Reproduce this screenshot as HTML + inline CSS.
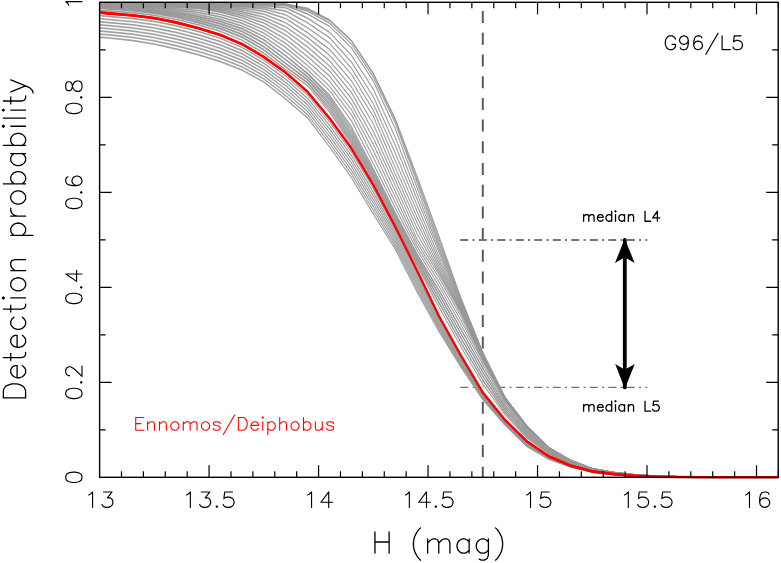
<!DOCTYPE html><html><head><meta charset="utf-8"><style>html,body{margin:0;padding:0;background:#fff;font-family:"Liberation Sans",sans-serif}svg{display:block}</style></head><body><svg width="781" height="563" viewBox="0 0 781 563">
<rect x="0" y="0" width="781" height="563" fill="#fff"/>
<line x1="482.8" y1="2.3" x2="482.8" y2="477.3" stroke="#5a5a5a" stroke-width="2" stroke-dasharray="12 9.7" stroke-dashoffset="12.9"/>
<line x1="460.3" y1="240" x2="647.3" y2="240" stroke="#757575" stroke-width="1.9" stroke-dasharray="8 4.25 2 4.25"/>
<line x1="460.3" y1="387.4" x2="647.3" y2="387.4" stroke="#707070" stroke-width="1.2" stroke-dasharray="8 4.25 2 4.25"/>
<path d="M99.60 1.90 L110.55 1.90 L132.45 1.90 L154.34 1.90 L176.24 1.90 L198.14 2.00 L220.03 2.00 L241.93 2.10 L263.83 2.30 L285.72 3.50 L307.62 7.90 L329.52 19.40 L351.42 40.00 L373.31 73.00 L395.21 118.10 L417.11 176.00 L439.00 236.00 L460.90 297.50 L482.80 352.00 L504.69 396.50 L526.59 425.30 L548.49 447.10 L570.39 459.90 L592.28 468.40 L614.18 472.30 L636.08 474.70 L657.97 475.90 L679.87 476.50 L701.77 476.70 L723.66 476.80 L745.56 476.80 L767.46 476.80 L778.41 476.80 L778.41 477.80 L767.46 477.80 L745.56 477.80 L723.66 477.80 L701.77 477.80 L679.87 477.70 L657.97 477.40 L636.08 476.60 L614.18 475.10 L592.28 472.50 L570.39 467.30 L548.49 459.50 L526.59 446.70 L504.69 425.20 L482.80 400.20 L460.90 367.50 L439.00 332.00 L417.11 292.50 L395.21 249.50 L373.31 214.50 L351.42 178.00 L329.52 147.40 L307.62 118.50 L285.72 99.50 L263.83 82.50 L241.93 70.50 L220.03 62.00 L198.14 55.20 L176.24 49.50 L154.34 44.60 L132.45 41.00 L110.55 38.60 L99.60 37.70Z" fill="#fff" fill-opacity="0.8"/>
<clipPath id="c"><rect x="99.6" y="1.7" width="678.6" height="476.6"/></clipPath>
<g clip-path="url(#c)" fill="none" stroke-linejoin="round">
<path d="M99.60 1.95 L110.55 1.95 L132.45 1.95 L154.34 1.95 L176.24 1.95 L198.14 2.05 L220.03 2.05 L241.93 2.15 L263.83 2.35 L285.72 3.55 L307.62 7.95 L329.52 19.48 L351.42 40.05 L373.31 73.05 L395.21 118.17 L417.11 176.12 L439.00 236.05 L460.90 297.55 L482.80 352.05 L504.69 396.55 L526.59 425.34 L548.49 447.12 L570.39 459.92 L592.28 468.40 L614.18 472.33 L636.08 474.72 L657.97 475.91 L679.87 476.55 L701.77 476.72 L723.66 476.85 L745.56 476.85 L767.46 476.85 L778.41 476.85 L778.41 477.75 L767.46 477.75 L745.56 477.75 L723.66 477.75 L701.77 477.62 L679.87 477.45 L657.97 476.81 L636.08 475.62 L614.18 473.23 L592.28 469.30 L570.39 460.82 L548.49 448.02 L526.59 426.24 L504.69 397.45 L482.80 352.95 L460.90 298.45 L439.00 236.95 L417.11 177.02 L395.21 119.07 L373.31 73.95 L351.42 40.95 L329.52 20.38 L307.62 8.85 L285.72 4.45 L263.83 3.25 L241.93 3.05 L220.03 2.95 L198.14 2.95 L176.24 2.85 L154.34 2.85 L132.45 2.85 L110.55 2.85 L99.60 2.85Z M99.60 2.18 L110.55 2.20 L132.45 2.23 L154.34 2.28 L176.24 2.35 L198.14 2.54 L220.03 2.63 L241.93 2.84 L263.83 2.90 L285.72 3.68 L307.62 9.05 L329.52 20.01 L351.42 40.41 L373.31 73.41 L395.21 119.58 L417.11 179.13 L439.00 239.21 L460.90 298.67 L482.80 352.27 L504.69 396.55 L526.59 425.34 L548.49 447.12 L570.39 459.92 L592.28 468.40 L614.18 472.33 L636.08 474.72 L657.97 475.91 L679.87 476.55 L701.77 476.72 L723.66 476.85 L745.56 476.85 L767.46 476.85 L778.41 476.85 L778.41 477.75 L767.46 477.75 L745.56 477.75 L723.66 477.75 L701.77 477.62 L679.87 477.45 L657.97 476.81 L636.08 475.62 L614.18 473.23 L592.28 469.30 L570.39 460.82 L548.49 448.02 L526.59 426.24 L504.69 397.45 L482.80 353.17 L460.90 299.57 L439.00 240.11 L417.11 180.03 L395.21 120.48 L373.31 74.31 L351.42 41.31 L329.52 20.91 L307.62 9.95 L285.72 4.58 L263.83 3.80 L241.93 3.74 L220.03 3.53 L198.14 3.44 L176.24 3.25 L154.34 3.18 L132.45 3.13 L110.55 3.10 L99.60 3.08Z M99.60 2.41 L110.55 2.44 L132.45 2.51 L154.34 2.60 L176.24 2.75 L198.14 3.03 L220.03 3.21 L241.93 3.55 L263.83 3.61 L285.72 4.27 L307.62 10.69 L329.52 22.58 L351.42 43.47 L373.31 76.57 L395.21 122.39 L417.11 182.23 L439.00 242.57 L460.90 300.15 L482.80 352.60 L504.69 396.55 L526.59 425.34 L548.49 447.12 L570.39 459.92 L592.28 468.40 L614.18 472.33 L636.08 474.72 L657.97 475.91 L679.87 476.55 L701.77 476.72 L723.66 476.85 L745.56 476.85 L767.46 476.85 L778.41 476.85 L778.41 477.75 L767.46 477.75 L745.56 477.75 L723.66 477.75 L701.77 477.62 L679.87 477.45 L657.97 476.81 L636.08 475.62 L614.18 473.23 L592.28 469.30 L570.39 460.82 L548.49 448.02 L526.59 426.24 L504.69 397.45 L482.80 353.50 L460.90 301.05 L439.00 243.47 L417.11 183.13 L395.21 123.29 L373.31 77.47 L351.42 44.37 L329.52 23.48 L307.62 11.59 L285.72 5.17 L263.83 4.51 L241.93 4.45 L220.03 4.11 L198.14 3.93 L176.24 3.65 L154.34 3.50 L132.45 3.41 L110.55 3.34 L99.60 3.31Z M99.60 2.64 L110.55 2.69 L132.45 2.78 L154.34 2.93 L176.24 3.15 L198.14 3.52 L220.03 3.80 L241.93 4.25 L263.83 4.33 L285.72 5.11 L307.62 13.59 L329.52 25.93 L351.42 47.31 L373.31 80.58 L395.21 128.02 L417.11 187.33 L439.00 245.69 L460.90 301.58 L482.80 352.92 L504.69 396.55 L526.59 425.34 L548.49 447.12 L570.39 459.92 L592.28 468.40 L614.18 472.33 L636.08 474.72 L657.97 475.91 L679.87 476.55 L701.77 476.72 L723.66 476.85 L745.56 476.85 L767.46 476.85 L778.41 476.85 L778.41 477.75 L767.46 477.75 L745.56 477.75 L723.66 477.75 L701.77 477.62 L679.87 477.45 L657.97 476.81 L636.08 475.62 L614.18 473.23 L592.28 469.30 L570.39 460.82 L548.49 448.02 L526.59 426.24 L504.69 397.45 L482.80 353.82 L460.90 302.48 L439.00 246.59 L417.11 188.23 L395.21 128.92 L373.31 81.48 L351.42 48.21 L329.52 26.83 L307.62 14.49 L285.72 6.01 L263.83 5.23 L241.93 5.15 L220.03 4.70 L198.14 4.42 L176.24 4.05 L154.34 3.83 L132.45 3.68 L110.55 3.59 L99.60 3.54Z M99.60 2.86 L110.55 2.94 L132.45 3.06 L154.34 3.26 L176.24 3.55 L198.14 4.02 L220.03 4.38 L241.93 4.95 L263.83 5.44 L285.72 7.34 L307.62 17.78 L329.52 31.89 L351.42 54.83 L373.31 88.70 L395.21 136.78 L417.11 193.28 L439.00 248.63 L460.90 302.95 L482.80 353.44 L504.69 396.73 L526.59 425.46 L548.49 447.19 L570.39 459.97 L592.28 468.42 L614.18 472.34 L636.08 474.72 L657.97 475.91 L679.87 476.55 L701.77 476.72 L723.66 476.85 L745.56 476.85 L767.46 476.85 L778.41 476.85 L778.41 477.75 L767.46 477.75 L745.56 477.75 L723.66 477.75 L701.77 477.62 L679.87 477.45 L657.97 476.81 L636.08 475.62 L614.18 473.24 L592.28 469.32 L570.39 460.87 L548.49 448.09 L526.59 426.36 L504.69 397.63 L482.80 354.34 L460.90 303.85 L439.00 249.53 L417.11 194.18 L395.21 137.68 L373.31 89.60 L351.42 55.73 L329.52 32.79 L307.62 18.68 L285.72 8.24 L263.83 6.34 L241.93 5.85 L220.03 5.28 L198.14 4.92 L176.24 4.45 L154.34 4.16 L132.45 3.96 L110.55 3.84 L99.60 3.76Z M99.60 3.09 L110.55 3.18 L132.45 3.34 L154.34 3.59 L176.24 3.96 L198.14 4.51 L220.03 4.97 L241.93 5.66 L263.83 6.86 L285.72 10.61 L307.62 22.45 L329.52 37.24 L351.42 61.62 L373.31 96.16 L395.21 144.80 L417.11 198.83 L439.00 251.83 L460.90 304.31 L482.80 354.10 L504.69 397.03 L526.59 425.66 L548.49 447.29 L570.39 460.04 L592.28 468.45 L614.18 472.36 L636.08 474.73 L657.97 475.92 L679.87 476.55 L701.77 476.72 L723.66 476.85 L745.56 476.85 L767.46 476.85 L778.41 476.85 L778.41 477.75 L767.46 477.75 L745.56 477.75 L723.66 477.75 L701.77 477.62 L679.87 477.45 L657.97 476.82 L636.08 475.63 L614.18 473.26 L592.28 469.35 L570.39 460.94 L548.49 448.19 L526.59 426.56 L504.69 397.93 L482.80 355.00 L460.90 305.21 L439.00 252.73 L417.11 199.73 L395.21 145.70 L373.31 97.06 L351.42 62.52 L329.52 38.14 L307.62 23.35 L285.72 11.51 L263.83 7.76 L241.93 6.56 L220.03 5.87 L198.14 5.41 L176.24 4.86 L154.34 4.49 L132.45 4.24 L110.55 4.08 L99.60 3.99Z M99.60 3.32 L110.55 3.43 L132.45 3.62 L154.34 3.91 L176.24 4.36 L198.14 5.00 L220.03 5.55 L241.93 6.36 L263.83 8.43 L285.72 14.41 L307.62 27.41 L329.52 42.72 L351.42 67.81 L373.31 103.21 L395.21 152.52 L417.11 204.99 L439.00 256.16 L460.90 305.70 L482.80 354.74 L504.69 397.32 L526.59 425.85 L548.49 447.39 L570.39 460.10 L592.28 468.48 L614.18 472.38 L636.08 474.74 L657.97 475.92 L679.87 476.55 L701.77 476.72 L723.66 476.85 L745.56 476.85 L767.46 476.85 L778.41 476.85 L778.41 477.75 L767.46 477.75 L745.56 477.75 L723.66 477.75 L701.77 477.62 L679.87 477.45 L657.97 476.82 L636.08 475.64 L614.18 473.28 L592.28 469.38 L570.39 461.00 L548.49 448.29 L526.59 426.75 L504.69 398.22 L482.80 355.64 L460.90 306.60 L439.00 257.06 L417.11 205.89 L395.21 153.42 L373.31 104.11 L351.42 68.71 L329.52 43.62 L307.62 28.31 L285.72 15.31 L263.83 9.33 L241.93 7.26 L220.03 6.45 L198.14 5.90 L176.24 5.26 L154.34 4.81 L132.45 4.52 L110.55 4.33 L99.60 4.22Z M99.60 3.55 L110.55 3.68 L132.45 3.90 L154.34 4.24 L176.24 4.76 L198.14 5.49 L220.03 6.40 L241.93 7.77 L263.83 10.79 L285.72 18.14 L307.62 32.25 L329.52 48.99 L351.42 73.65 L373.31 109.76 L395.21 160.05 L417.11 210.97 L439.00 259.99 L460.90 306.98 L482.80 355.38 L504.69 397.62 L526.59 426.04 L548.49 447.48 L570.39 460.16 L592.28 468.52 L614.18 472.39 L636.08 474.75 L657.97 475.93 L679.87 476.55 L701.77 476.72 L723.66 476.85 L745.56 476.85 L767.46 476.85 L778.41 476.85 L778.41 477.75 L767.46 477.75 L745.56 477.75 L723.66 477.75 L701.77 477.62 L679.87 477.45 L657.97 476.83 L636.08 475.65 L614.18 473.29 L592.28 469.42 L570.39 461.06 L548.49 448.38 L526.59 426.94 L504.69 398.52 L482.80 356.28 L460.90 307.88 L439.00 260.89 L417.11 211.87 L395.21 160.95 L373.31 110.66 L351.42 74.55 L329.52 49.89 L307.62 33.15 L285.72 19.04 L263.83 11.69 L241.93 8.67 L220.03 7.30 L198.14 6.39 L176.24 5.66 L154.34 5.14 L132.45 4.80 L110.55 4.58 L99.60 4.45Z M99.60 3.78 L110.55 3.93 L132.45 4.18 L154.34 4.57 L176.24 5.16 L198.14 5.98 L220.03 7.37 L241.93 9.51 L263.83 13.69 L285.72 22.40 L307.62 36.98 L329.52 54.77 L351.42 80.33 L373.31 116.01 L395.21 167.21 L417.11 216.76 L439.00 263.40 L460.90 308.16 L482.80 356.00 L504.69 397.91 L526.59 426.23 L548.49 447.57 L570.39 460.22 L592.28 468.55 L614.18 472.41 L636.08 474.77 L657.97 475.93 L679.87 476.55 L701.77 476.72 L723.66 476.85 L745.56 476.85 L767.46 476.85 L778.41 476.85 L778.41 477.75 L767.46 477.75 L745.56 477.75 L723.66 477.75 L701.77 477.62 L679.87 477.45 L657.97 476.83 L636.08 475.67 L614.18 473.31 L592.28 469.45 L570.39 461.12 L548.49 448.47 L526.59 427.13 L504.69 398.81 L482.80 356.90 L460.90 309.06 L439.00 264.30 L417.11 217.66 L395.21 168.11 L373.31 116.91 L351.42 81.23 L329.52 55.67 L307.62 37.88 L285.72 23.30 L263.83 14.59 L241.93 10.41 L220.03 8.27 L198.14 6.88 L176.24 6.06 L154.34 5.47 L132.45 5.08 L110.55 4.83 L99.60 4.68Z M99.60 4.01 L110.55 4.17 L132.45 4.45 L154.34 4.90 L176.24 5.56 L198.14 6.47 L220.03 8.38 L241.93 11.37 L263.83 16.67 L285.72 26.47 L307.62 41.71 L329.52 60.31 L351.42 86.41 L373.31 123.41 L395.21 173.58 L417.11 222.38 L439.00 266.47 L460.90 309.26 L482.80 356.62 L504.69 398.20 L526.59 426.42 L548.49 447.66 L570.39 460.28 L592.28 468.57 L614.18 472.42 L636.08 474.78 L657.97 475.94 L679.87 476.56 L701.77 476.73 L723.66 476.85 L745.56 476.85 L767.46 476.85 L778.41 476.85 L778.41 477.75 L767.46 477.75 L745.56 477.75 L723.66 477.75 L701.77 477.63 L679.87 477.46 L657.97 476.84 L636.08 475.68 L614.18 473.32 L592.28 469.47 L570.39 461.18 L548.49 448.56 L526.59 427.32 L504.69 399.10 L482.80 357.52 L460.90 310.16 L439.00 267.37 L417.11 223.28 L395.21 174.48 L373.31 124.31 L351.42 87.31 L329.52 61.21 L307.62 42.61 L285.72 27.37 L263.83 17.57 L241.93 12.27 L220.03 9.28 L198.14 7.37 L176.24 6.46 L154.34 5.80 L132.45 5.35 L110.55 5.07 L99.60 4.91Z M99.60 4.24 L110.55 4.42 L132.45 4.73 L154.34 5.22 L176.24 5.96 L198.14 6.96 L220.03 9.38 L241.93 13.17 L263.83 19.55 L285.72 30.44 L307.62 46.48 L329.52 65.62 L351.42 91.98 L373.31 130.73 L395.21 179.33 L417.11 227.88 L439.00 269.26 L460.90 310.27 L482.80 357.24 L504.69 398.50 L526.59 426.62 L548.49 447.75 L570.39 460.33 L592.28 468.59 L614.18 472.44 L636.08 474.79 L657.97 475.94 L679.87 476.56 L701.77 476.73 L723.66 476.85 L745.56 476.85 L767.46 476.85 L778.41 476.85 L778.41 477.75 L767.46 477.75 L745.56 477.75 L723.66 477.75 L701.77 477.63 L679.87 477.46 L657.97 476.84 L636.08 475.69 L614.18 473.34 L592.28 469.49 L570.39 461.23 L548.49 448.65 L526.59 427.52 L504.69 399.40 L482.80 358.14 L460.90 311.17 L439.00 270.16 L417.11 228.78 L395.21 180.23 L373.31 131.63 L351.42 92.88 L329.52 66.52 L307.62 47.38 L285.72 31.34 L263.83 20.45 L241.93 14.07 L220.03 10.28 L198.14 7.86 L176.24 6.86 L154.34 6.12 L132.45 5.63 L110.55 5.32 L99.60 5.14Z M99.60 4.46 L110.55 4.67 L132.45 5.01 L154.34 5.55 L176.24 6.36 L198.14 7.45 L220.03 10.42 L241.93 15.10 L263.83 22.61 L285.72 34.47 L307.62 51.34 L329.52 70.53 L351.42 98.08 L373.31 137.54 L395.21 184.91 L417.11 233.34 L439.00 271.81 L460.90 311.37 L482.80 357.84 L504.69 398.79 L526.59 426.81 L548.49 447.84 L570.39 460.39 L592.28 468.61 L614.18 472.46 L636.08 474.80 L657.97 475.95 L679.87 476.56 L701.77 476.73 L723.66 476.85 L745.56 476.85 L767.46 476.85 L778.41 476.85 L778.41 477.75 L767.46 477.75 L745.56 477.75 L723.66 477.75 L701.77 477.63 L679.87 477.46 L657.97 476.85 L636.08 475.70 L614.18 473.36 L592.28 469.51 L570.39 461.29 L548.49 448.74 L526.59 427.71 L504.69 399.69 L482.80 358.74 L460.90 312.27 L439.00 272.71 L417.11 234.24 L395.21 185.81 L373.31 138.44 L351.42 98.98 L329.52 71.43 L307.62 52.24 L285.72 35.37 L263.83 23.51 L241.93 16.00 L220.03 11.32 L198.14 8.35 L176.24 7.26 L154.34 6.45 L132.45 5.91 L110.55 5.57 L99.60 5.36Z M99.60 4.69 L110.55 4.91 L132.45 5.29 L154.34 5.88 L176.24 6.76 L198.14 7.95 L220.03 11.55 L241.93 17.28 L263.83 26.08 L285.72 38.88 L307.62 56.13 L329.52 75.58 L351.42 103.80 L373.31 143.86 L395.21 190.73 L417.11 238.68 L439.00 274.17 L460.90 312.50 L482.80 358.44 L504.69 399.08 L526.59 427.00 L548.49 447.93 L570.39 460.45 L592.28 468.64 L614.18 472.47 L636.08 474.80 L657.97 475.95 L679.87 476.56 L701.77 476.73 L723.66 476.85 L745.56 476.85 L767.46 476.85 L778.41 476.85 L778.41 477.75 L767.46 477.75 L745.56 477.75 L723.66 477.75 L701.77 477.63 L679.87 477.46 L657.97 476.85 L636.08 475.70 L614.18 473.37 L592.28 469.54 L570.39 461.35 L548.49 448.83 L526.59 427.90 L504.69 399.98 L482.80 359.34 L460.90 313.40 L439.00 275.07 L417.11 239.58 L395.21 191.63 L373.31 144.76 L351.42 104.70 L329.52 76.48 L307.62 57.03 L285.72 39.78 L263.83 26.98 L241.93 18.18 L220.03 12.45 L198.14 8.85 L176.24 7.66 L154.34 6.78 L132.45 6.19 L110.55 5.81 L99.60 5.59Z M99.60 4.92 L110.55 5.24 L132.45 5.84 L154.34 6.75 L176.24 8.14 L198.14 10.03 L220.03 13.97 L241.93 20.03 L263.83 29.41 L285.72 43.06 L307.62 60.65 L329.52 80.83 L351.42 109.20 L373.31 150.12 L395.21 196.39 L417.11 242.51 L439.00 277.40 L460.90 315.73 L482.80 359.48 L504.69 399.37 L526.59 427.19 L548.49 448.03 L570.39 460.51 L592.28 468.66 L614.18 472.49 L636.08 474.81 L657.97 475.96 L679.87 476.56 L701.77 476.73 L723.66 476.85 L745.56 476.85 L767.46 476.85 L778.41 476.85 L778.41 477.75 L767.46 477.75 L745.56 477.75 L723.66 477.75 L701.77 477.63 L679.87 477.46 L657.97 476.86 L636.08 475.71 L614.18 473.39 L592.28 469.56 L570.39 461.41 L548.49 448.93 L526.59 428.09 L504.69 400.27 L482.80 360.38 L460.90 316.63 L439.00 278.30 L417.11 243.41 L395.21 197.29 L373.31 151.02 L351.42 110.10 L329.52 81.73 L307.62 61.55 L285.72 43.96 L263.83 30.31 L241.93 20.93 L220.03 14.87 L198.14 10.93 L176.24 9.04 L154.34 7.65 L132.45 6.74 L110.55 6.14 L99.60 5.82Z M99.60 5.15 L110.55 5.56 L132.45 6.38 L154.34 7.62 L176.24 9.51 L198.14 12.10 L220.03 16.37 L241.93 22.77 L263.83 32.66 L285.72 46.98 L307.62 65.16 L329.52 85.70 L351.42 114.30 L373.31 156.76 L395.21 201.89 L417.11 246.10 L439.00 281.49 L460.90 319.95 L482.80 360.78 L504.69 399.66 L526.59 427.38 L548.49 448.12 L570.39 460.57 L592.28 468.68 L614.18 472.51 L636.08 474.82 L657.97 475.96 L679.87 476.56 L701.77 476.74 L723.66 476.85 L745.56 476.85 L767.46 476.85 L778.41 476.85 L778.41 477.75 L767.46 477.75 L745.56 477.75 L723.66 477.75 L701.77 477.64 L679.87 477.46 L657.97 476.86 L636.08 475.72 L614.18 473.41 L592.28 469.58 L570.39 461.47 L548.49 449.02 L526.59 428.28 L504.69 400.56 L482.80 361.68 L460.90 320.85 L439.00 282.39 L417.11 247.00 L395.21 202.79 L373.31 157.66 L351.42 115.20 L329.52 86.60 L307.62 66.06 L285.72 47.88 L263.83 33.56 L241.93 23.67 L220.03 17.27 L198.14 13.00 L176.24 10.41 L154.34 8.52 L132.45 7.28 L110.55 6.46 L99.60 6.05Z M99.60 5.65 L110.55 6.15 L132.45 7.15 L154.34 8.67 L176.24 10.97 L198.14 14.15 L220.03 18.74 L241.93 25.49 L263.83 36.05 L285.72 51.28 L307.62 69.34 L329.52 90.15 L351.42 120.24 L373.31 163.10 L395.21 207.24 L417.11 249.77 L439.00 285.63 L460.90 324.21 L482.80 363.80 L504.69 401.47 L526.59 428.56 L548.49 448.70 L570.39 460.94 L592.28 468.83 L614.18 472.61 L636.08 474.86 L657.97 476.00 L679.87 476.57 L701.77 476.75 L723.66 476.85 L745.56 476.85 L767.46 476.85 L778.41 476.85 L778.41 477.75 L767.46 477.75 L745.56 477.75 L723.66 477.75 L701.77 477.65 L679.87 477.47 L657.97 476.90 L636.08 475.76 L614.18 473.51 L592.28 469.73 L570.39 461.84 L548.49 449.60 L526.59 429.46 L504.69 402.37 L482.80 364.70 L460.90 325.11 L439.00 286.53 L417.11 250.67 L395.21 208.14 L373.31 164.00 L351.42 121.14 L329.52 91.05 L307.62 70.24 L285.72 52.18 L263.83 36.95 L241.93 26.39 L220.03 19.64 L198.14 15.05 L176.24 11.87 L154.34 9.57 L132.45 8.05 L110.55 7.05 L99.60 6.55Z M99.60 6.15 L110.55 6.72 L132.45 7.89 L154.34 9.65 L176.24 12.33 L198.14 16.00 L220.03 20.95 L241.93 28.14 L263.83 39.41 L285.72 55.42 L307.62 72.87 L329.52 94.49 L351.42 126.36 L373.31 168.31 L395.21 212.10 L417.11 253.46 L439.00 289.81 L460.90 328.68 L482.80 367.76 L504.69 404.03 L526.59 430.27 L548.49 449.57 L570.39 461.49 L592.28 469.05 L614.18 472.75 L636.08 474.92 L657.97 476.04 L679.87 476.58 L701.77 476.77 L723.66 476.85 L745.56 476.85 L767.46 476.85 L778.41 476.85 L778.41 477.75 L767.46 477.75 L745.56 477.75 L723.66 477.75 L701.77 477.67 L679.87 477.48 L657.97 476.94 L636.08 475.82 L614.18 473.65 L592.28 469.95 L570.39 462.39 L548.49 450.47 L526.59 431.17 L504.69 404.93 L482.80 368.66 L460.90 329.58 L439.00 290.71 L417.11 254.36 L395.21 213.00 L373.31 169.21 L351.42 127.26 L329.52 95.39 L307.62 73.77 L285.72 56.32 L263.83 40.31 L241.93 29.04 L220.03 21.85 L198.14 16.90 L176.24 13.23 L154.34 10.55 L132.45 8.79 L110.55 7.62 L99.60 7.05Z M99.60 6.65 L110.55 7.31 L132.45 8.65 L154.34 10.67 L176.24 13.74 L198.14 17.94 L220.03 23.26 L241.93 30.89 L263.83 42.74 L285.72 59.19 L307.62 76.08 L329.52 98.62 L351.42 131.44 L373.31 172.25 L395.21 215.42 L417.11 256.20 L439.00 293.75 L460.90 333.13 L482.80 371.71 L504.69 406.56 L526.59 431.96 L548.49 450.46 L570.39 462.05 L592.28 469.29 L614.18 472.89 L636.08 474.99 L657.97 476.08 L679.87 476.59 L701.77 476.79 L723.66 476.85 L745.56 476.85 L767.46 476.85 L778.41 476.85 L778.41 477.75 L767.46 477.75 L745.56 477.75 L723.66 477.75 L701.77 477.69 L679.87 477.49 L657.97 476.98 L636.08 475.89 L614.18 473.79 L592.28 470.19 L570.39 462.95 L548.49 451.36 L526.59 432.86 L504.69 407.46 L482.80 372.61 L460.90 334.03 L439.00 294.65 L417.11 257.10 L395.21 216.32 L373.31 173.15 L351.42 132.34 L329.52 99.52 L307.62 76.98 L285.72 60.09 L263.83 43.64 L241.93 31.79 L220.03 24.16 L198.14 18.84 L176.24 14.64 L154.34 11.57 L132.45 9.55 L110.55 8.21 L99.60 7.55Z M99.60 7.15 L110.55 7.89 L132.45 9.42 L154.34 11.72 L176.24 15.20 L198.14 19.99 L220.03 25.70 L241.93 33.81 L263.83 46.24 L285.72 62.99 L307.62 79.06 L329.52 102.80 L351.42 136.06 L373.31 175.82 L395.21 218.63 L417.11 259.12 L439.00 297.86 L460.90 337.54 L482.80 375.64 L504.69 409.05 L526.59 433.65 L548.49 451.38 L570.39 462.63 L592.28 469.55 L614.18 473.05 L636.08 475.06 L657.97 476.12 L679.87 476.60 L701.77 476.85 L723.66 476.85 L745.56 476.85 L767.46 476.85 L778.41 476.85 L778.41 477.75 L767.46 477.75 L745.56 477.75 L723.66 477.75 L701.77 477.75 L679.87 477.50 L657.97 477.02 L636.08 475.96 L614.18 473.95 L592.28 470.45 L570.39 463.53 L548.49 452.28 L526.59 434.55 L504.69 409.95 L482.80 376.54 L460.90 338.44 L439.00 298.76 L417.11 260.02 L395.21 219.53 L373.31 176.72 L351.42 136.96 L329.52 103.70 L307.62 79.96 L285.72 63.89 L263.83 47.14 L241.93 34.71 L220.03 26.60 L198.14 20.89 L176.24 16.10 L154.34 12.62 L132.45 10.32 L110.55 8.79 L99.60 8.05Z M99.60 7.65 L110.55 8.48 L132.45 10.19 L154.34 12.76 L176.24 16.67 L198.14 22.03 L220.03 28.07 L241.93 36.54 L263.83 49.40 L285.72 66.44 L307.62 82.03 L329.52 107.13 L351.42 140.29 L373.31 179.26 L395.21 221.74 L417.11 262.21 L439.00 302.10 L460.90 341.89 L482.80 379.55 L504.69 411.51 L526.59 435.34 L548.49 452.33 L570.39 463.22 L592.28 469.84 L614.18 473.20 L636.08 475.14 L657.97 476.17 L679.87 476.62 L701.77 476.85 L723.66 476.85 L745.56 476.85 L767.46 476.85 L778.41 476.85 L778.41 477.75 L767.46 477.75 L745.56 477.75 L723.66 477.75 L701.77 477.75 L679.87 477.52 L657.97 477.07 L636.08 476.04 L614.18 474.10 L592.28 470.74 L570.39 464.12 L548.49 453.23 L526.59 436.24 L504.69 412.41 L482.80 380.45 L460.90 342.79 L439.00 303.00 L417.11 263.11 L395.21 222.64 L373.31 180.16 L351.42 141.19 L329.52 108.03 L307.62 82.93 L285.72 67.34 L263.83 50.30 L241.93 37.44 L220.03 28.97 L198.14 22.93 L176.24 17.57 L154.34 13.66 L132.45 11.09 L110.55 9.38 L99.60 8.55Z M99.60 9.65 L110.55 10.55 L132.45 12.29 L154.34 14.94 L176.24 18.96 L198.14 24.33 L220.03 30.71 L241.93 39.66 L263.83 52.75 L285.72 69.32 L307.62 85.25 L329.52 111.66 L351.42 144.19 L373.31 182.55 L395.21 224.75 L417.11 265.48 L439.00 306.57 L460.90 346.18 L482.80 383.61 L504.69 413.94 L526.59 437.01 L548.49 453.32 L570.39 463.83 L592.28 470.15 L614.18 473.37 L636.08 475.23 L657.97 476.22 L679.87 476.63 L701.77 476.85 L723.66 476.85 L745.56 476.85 L767.46 476.85 L778.41 476.85 L778.41 477.75 L767.46 477.75 L745.56 477.75 L723.66 477.75 L701.77 477.75 L679.87 477.53 L657.97 477.12 L636.08 476.13 L614.18 474.27 L592.28 471.05 L570.39 464.73 L548.49 454.22 L526.59 437.91 L504.69 414.84 L482.80 384.51 L460.90 347.08 L439.00 307.47 L417.11 266.38 L395.21 225.65 L373.31 183.45 L351.42 145.09 L329.52 112.56 L307.62 86.15 L285.72 70.22 L263.83 53.65 L241.93 40.56 L220.03 31.61 L198.14 25.23 L176.24 19.86 L154.34 15.84 L132.45 13.19 L110.55 11.45 L99.60 10.55Z M99.60 6.15 L110.55 6.72 L132.45 7.89 L154.34 9.65 L176.24 12.33 L198.14 16.00 L220.03 20.95 L241.93 28.14 L263.83 39.41 L285.72 55.42 L307.62 73.46 L329.52 96.56 L351.42 128.90 L373.31 170.28 L395.21 213.76 L417.11 254.73 L439.00 290.18 L460.90 328.68 L482.80 367.76 L504.69 404.03 L526.59 430.27 L548.49 449.57 L570.39 461.49 L592.28 469.05 L614.18 472.75 L636.08 474.92 L657.97 476.04 L679.87 476.58 L701.77 476.77 L723.66 476.85 L745.56 476.85 L767.46 476.85 L778.41 476.85 L778.41 477.75 L767.46 477.75 L745.56 477.75 L723.66 477.75 L701.77 477.67 L679.87 477.48 L657.97 476.94 L636.08 475.82 L614.18 473.65 L592.28 469.95 L570.39 462.39 L548.49 450.47 L526.59 431.17 L504.69 404.93 L482.80 368.66 L460.90 329.58 L439.00 291.08 L417.11 255.63 L395.21 214.66 L373.31 171.18 L351.42 129.80 L329.52 97.46 L307.62 74.36 L285.72 56.32 L263.83 40.31 L241.93 29.04 L220.03 21.85 L198.14 16.90 L176.24 13.23 L154.34 10.55 L132.45 8.79 L110.55 7.62 L99.60 7.05Z M99.60 6.65 L110.55 7.31 L132.45 8.65 L154.34 10.67 L176.24 13.74 L198.14 17.94 L220.03 23.26 L241.93 30.89 L263.83 42.74 L285.72 59.19 L307.62 76.63 L329.52 100.71 L351.42 133.75 L373.31 174.04 L395.21 217.03 L417.11 257.55 L439.00 294.13 L460.90 333.13 L482.80 371.71 L504.69 406.56 L526.59 431.96 L548.49 450.46 L570.39 462.05 L592.28 469.29 L614.18 472.89 L636.08 474.99 L657.97 476.08 L679.87 476.59 L701.77 476.79 L723.66 476.85 L745.56 476.85 L767.46 476.85 L778.41 476.85 L778.41 477.75 L767.46 477.75 L745.56 477.75 L723.66 477.75 L701.77 477.69 L679.87 477.49 L657.97 476.98 L636.08 475.89 L614.18 473.79 L592.28 470.19 L570.39 462.95 L548.49 451.36 L526.59 432.86 L504.69 407.46 L482.80 372.61 L460.90 334.03 L439.00 295.03 L417.11 258.45 L395.21 217.93 L373.31 174.94 L351.42 134.65 L329.52 101.61 L307.62 77.53 L285.72 60.09 L263.83 43.64 L241.93 31.79 L220.03 24.16 L198.14 18.84 L176.24 14.64 L154.34 11.57 L132.45 9.55 L110.55 8.21 L99.60 7.55Z M99.60 7.15 L110.55 7.89 L132.45 9.42 L154.34 11.72 L176.24 15.20 L198.14 19.99 L220.03 25.70 L241.93 33.81 L263.83 46.24 L285.72 62.99 L307.62 79.61 L329.52 104.96 L351.42 138.17 L373.31 177.54 L395.21 220.19 L417.11 260.55 L439.00 298.26 L460.90 337.54 L482.80 375.64 L504.69 409.05 L526.59 433.65 L548.49 451.38 L570.39 462.63 L592.28 469.55 L614.18 473.05 L636.08 475.06 L657.97 476.12 L679.87 476.60 L701.77 476.85 L723.66 476.85 L745.56 476.85 L767.46 476.85 L778.41 476.85 L778.41 477.75 L767.46 477.75 L745.56 477.75 L723.66 477.75 L701.77 477.75 L679.87 477.50 L657.97 477.02 L636.08 475.96 L614.18 473.95 L592.28 470.45 L570.39 463.53 L548.49 452.28 L526.59 434.55 L504.69 409.95 L482.80 376.54 L460.90 338.44 L439.00 299.16 L417.11 261.45 L395.21 221.09 L373.31 178.44 L351.42 139.07 L329.52 105.86 L307.62 80.51 L285.72 63.89 L263.83 47.14 L241.93 34.71 L220.03 26.60 L198.14 20.89 L176.24 16.10 L154.34 12.62 L132.45 10.32 L110.55 8.79 L99.60 8.05Z M99.60 7.65 L110.55 8.48 L132.45 10.19 L154.34 12.76 L176.24 16.67 L198.14 22.03 L220.03 28.07 L241.93 36.54 L263.83 49.40 L285.72 66.44 L307.62 82.62 L329.52 109.39 L351.42 142.24 L373.31 180.91 L395.21 223.25 L417.11 263.72 L439.00 302.52 L460.90 341.89 L482.80 379.55 L504.69 411.51 L526.59 435.34 L548.49 452.33 L570.39 463.22 L592.28 469.84 L614.18 473.20 L636.08 475.14 L657.97 476.17 L679.87 476.62 L701.77 476.85 L723.66 476.85 L745.56 476.85 L767.46 476.85 L778.41 476.85 L778.41 477.75 L767.46 477.75 L745.56 477.75 L723.66 477.75 L701.77 477.75 L679.87 477.52 L657.97 477.07 L636.08 476.04 L614.18 474.10 L592.28 470.74 L570.39 464.12 L548.49 453.23 L526.59 436.24 L504.69 412.41 L482.80 380.45 L460.90 342.79 L439.00 303.42 L417.11 264.62 L395.21 224.15 L373.31 181.81 L351.42 143.14 L329.52 110.29 L307.62 83.52 L285.72 67.34 L263.83 50.30 L241.93 37.44 L220.03 28.97 L198.14 22.93 L176.24 17.57 L154.34 13.66 L132.45 11.09 L110.55 9.38 L99.60 8.55Z M99.60 15.14 L110.55 16.12 L132.45 18.04 L154.34 20.99 L176.24 25.36 L198.14 30.98 L220.03 37.69 L241.93 46.89 L263.83 59.67 L285.72 75.45 L307.62 94.71 L329.52 121.42 L351.42 151.50 L373.31 188.18 L395.21 229.04 L417.11 272.91 L439.00 317.75 L460.90 356.49 L482.80 393.04 L504.69 419.88 L526.59 441.38 L548.49 456.01 L570.39 465.39 L592.28 471.02 L614.18 473.80 L636.08 475.47 L657.97 476.36 L679.87 476.75 L701.77 476.85 L723.66 476.85 L745.56 476.85 L767.46 476.85 L778.41 476.85 L778.41 477.75 L767.46 477.75 L745.56 477.75 L723.66 477.75 L701.77 477.75 L679.87 477.65 L657.97 477.26 L636.08 476.37 L614.18 474.70 L592.28 471.92 L570.39 466.29 L548.49 456.91 L526.59 442.27 L504.69 420.77 L482.80 393.94 L460.90 357.39 L439.00 318.65 L417.11 273.81 L395.21 229.94 L373.31 189.07 L351.42 152.40 L329.52 122.33 L307.62 95.61 L285.72 76.35 L263.83 60.58 L241.93 47.79 L220.03 38.59 L198.14 31.88 L176.24 26.26 L154.34 21.89 L132.45 18.94 L110.55 17.02 L99.60 16.04Z M99.60 18.23 L110.55 19.20 L132.45 21.19 L154.34 24.23 L176.24 28.68 L198.14 34.30 L220.03 41.02 L241.93 50.12 L263.83 62.80 L285.72 78.75 L307.62 97.98 L329.52 125.00 L351.42 155.15 L373.31 191.80 L395.21 231.82 L417.11 275.57 L439.00 319.65 L460.90 357.93 L482.80 393.93 L504.69 420.50 L526.59 442.00 L548.49 456.38 L570.39 465.53 L592.28 471.10 L614.18 473.85 L636.08 475.50 L657.97 476.38 L679.87 476.75 L701.77 476.85 L723.66 476.85 L745.56 476.85 L767.46 476.85 L778.41 476.85 L778.41 477.75 L767.46 477.75 L745.56 477.75 L723.66 477.75 L701.77 477.75 L679.87 477.65 L657.97 477.27 L636.08 476.40 L614.18 474.75 L592.28 472.00 L570.39 466.43 L548.49 457.28 L526.59 442.90 L504.69 421.40 L482.80 394.82 L460.90 358.82 L439.00 320.55 L417.11 276.47 L395.21 232.72 L373.31 192.70 L351.42 156.05 L329.52 125.90 L307.62 98.88 L285.72 79.65 L263.83 63.70 L241.93 51.03 L220.03 41.92 L198.14 35.20 L176.24 29.57 L154.34 25.12 L132.45 22.09 L110.55 20.10 L99.60 19.12Z M99.60 21.31 L110.55 22.28 L132.45 24.33 L154.34 27.46 L176.24 31.99 L198.14 37.62 L220.03 44.36 L241.93 53.36 L263.83 65.92 L285.72 82.05 L307.62 101.24 L329.52 128.58 L351.42 158.80 L373.31 195.43 L395.21 234.61 L417.11 278.24 L439.00 321.55 L460.90 359.36 L482.80 394.81 L504.69 421.12 L526.59 442.62 L548.49 456.74 L570.39 465.66 L592.28 471.18 L614.18 473.90 L636.08 475.53 L657.97 476.39 L679.87 476.75 L701.77 476.85 L723.66 476.85 L745.56 476.85 L767.46 476.85 L778.41 476.85 L778.41 477.75 L767.46 477.75 L745.56 477.75 L723.66 477.75 L701.77 477.75 L679.87 477.65 L657.97 477.29 L636.08 476.43 L614.18 474.80 L592.28 472.07 L570.39 466.56 L548.49 457.64 L526.59 443.52 L504.69 422.02 L482.80 395.71 L460.90 360.26 L439.00 322.45 L417.11 279.14 L395.21 235.51 L373.31 196.32 L351.42 159.70 L329.52 129.47 L307.62 102.14 L285.72 82.95 L263.83 66.83 L241.93 54.26 L220.03 45.26 L198.14 38.53 L176.24 32.89 L154.34 28.36 L132.45 25.23 L110.55 23.18 L99.60 22.21Z M99.60 24.40 L110.55 25.35 L132.45 27.47 L154.34 30.70 L176.24 35.30 L198.14 40.95 L220.03 47.70 L241.93 56.60 L263.83 69.05 L285.72 85.35 L307.62 104.50 L329.52 132.15 L351.42 162.45 L373.31 199.05 L395.21 237.40 L417.11 280.90 L439.00 323.45 L460.90 360.80 L482.80 395.70 L504.69 421.75 L526.59 443.25 L548.49 457.10 L570.39 465.80 L592.28 471.25 L614.18 473.95 L636.08 475.55 L657.97 476.40 L679.87 476.75 L701.77 476.85 L723.66 476.85 L745.56 476.85 L767.46 476.85 L778.41 476.85 L778.41 477.75 L767.46 477.75 L745.56 477.75 L723.66 477.75 L701.77 477.75 L679.87 477.65 L657.97 477.30 L636.08 476.45 L614.18 474.85 L592.28 472.15 L570.39 466.70 L548.49 458.00 L526.59 444.15 L504.69 422.65 L482.80 396.60 L460.90 361.70 L439.00 324.35 L417.11 281.80 L395.21 238.30 L373.31 199.95 L351.42 163.35 L329.52 133.05 L307.62 105.40 L285.72 86.25 L263.83 69.95 L241.93 57.50 L220.03 48.60 L198.14 41.85 L176.24 36.20 L154.34 31.60 L132.45 28.37 L110.55 26.25 L99.60 25.30Z M99.60 27.49 L110.55 28.43 L132.45 30.62 L154.34 33.94 L176.24 38.61 L198.14 44.27 L220.03 51.04 L241.93 59.84 L263.83 72.17 L285.72 88.65 L307.62 107.76 L329.52 135.73 L351.42 166.10 L373.31 202.68 L395.21 240.19 L417.11 283.56 L439.00 325.35 L460.90 362.24 L482.80 396.59 L504.69 422.38 L526.59 443.88 L548.49 457.46 L570.39 465.94 L592.28 471.32 L614.18 474.00 L636.08 475.57 L657.97 476.41 L679.87 476.75 L701.77 476.85 L723.66 476.85 L745.56 476.85 L767.46 476.85 L778.41 476.85 L778.41 477.75 L767.46 477.75 L745.56 477.75 L723.66 477.75 L701.77 477.75 L679.87 477.65 L657.97 477.31 L636.08 476.47 L614.18 474.90 L592.28 472.22 L570.39 466.84 L548.49 458.36 L526.59 444.77 L504.69 423.27 L482.80 397.49 L460.90 363.14 L439.00 326.25 L417.11 284.46 L395.21 241.09 L373.31 203.57 L351.42 167.00 L329.52 136.62 L307.62 108.66 L285.72 89.55 L263.83 73.08 L241.93 60.74 L220.03 51.94 L198.14 45.18 L176.24 39.51 L154.34 34.84 L132.45 31.52 L110.55 29.32 L99.60 28.39Z M99.60 30.58 L110.55 31.50 L132.45 33.76 L154.34 37.17 L176.24 41.92 L198.14 47.60 L220.03 54.38 L241.93 63.07 L263.83 75.30 L285.72 91.95 L307.62 111.02 L329.52 139.30 L351.42 169.75 L373.31 206.30 L395.21 242.98 L417.11 286.23 L439.00 327.25 L460.90 363.68 L482.80 397.48 L504.69 423.00 L526.59 444.50 L548.49 457.82 L570.39 466.07 L592.28 471.40 L614.18 474.05 L636.08 475.60 L657.97 476.43 L679.87 476.75 L701.77 476.85 L723.66 476.85 L745.56 476.85 L767.46 476.85 L778.41 476.85 L778.41 477.75 L767.46 477.75 L745.56 477.75 L723.66 477.75 L701.77 477.75 L679.87 477.65 L657.97 477.32 L636.08 476.50 L614.18 474.95 L592.28 472.30 L570.39 466.97 L548.49 458.72 L526.59 445.40 L504.69 423.90 L482.80 398.38 L460.90 364.57 L439.00 328.15 L417.11 287.12 L395.21 243.88 L373.31 207.20 L351.42 170.65 L329.52 140.20 L307.62 111.92 L285.72 92.85 L263.83 76.20 L241.93 63.98 L220.03 55.28 L198.14 48.50 L176.24 42.83 L154.34 38.08 L132.45 34.66 L110.55 32.40 L99.60 31.48Z M99.60 33.66 L110.55 34.58 L132.45 36.91 L154.34 40.41 L176.24 45.24 L198.14 50.92 L220.03 57.71 L241.93 66.31 L263.83 78.42 L285.72 95.25 L307.62 114.29 L329.52 142.88 L351.42 173.40 L373.31 209.93 L395.21 245.76 L417.11 288.89 L439.00 329.15 L460.90 365.11 L482.80 398.36 L504.69 423.62 L526.59 445.12 L548.49 458.19 L570.39 466.21 L592.28 471.48 L614.18 474.10 L636.08 475.63 L657.97 476.44 L679.87 476.75 L701.77 476.85 L723.66 476.85 L745.56 476.85 L767.46 476.85 L778.41 476.85 L778.41 477.75 L767.46 477.75 L745.56 477.75 L723.66 477.75 L701.77 477.75 L679.87 477.65 L657.97 477.34 L636.08 476.53 L614.18 475.00 L592.28 472.38 L570.39 467.11 L548.49 459.09 L526.59 446.02 L504.69 424.52 L482.80 399.26 L460.90 366.01 L439.00 330.05 L417.11 289.79 L395.21 246.66 L373.31 210.82 L351.42 174.30 L329.52 143.77 L307.62 115.19 L285.72 96.15 L263.83 79.33 L241.93 67.21 L220.03 58.61 L198.14 51.83 L176.24 46.14 L154.34 41.31 L132.45 37.81 L110.55 35.48 L99.60 34.56Z M99.60 36.75 L110.55 37.65 L132.45 40.05 L154.34 43.65 L176.24 48.55 L198.14 54.25 L220.03 61.05 L241.93 69.55 L263.83 81.55 L285.72 98.55 L307.62 117.55 L329.52 146.45 L351.42 177.05 L373.31 213.55 L395.21 248.55 L417.11 291.55 L439.00 331.05 L460.90 366.55 L482.80 399.25 L504.69 424.25 L526.59 445.75 L548.49 458.55 L570.39 466.35 L592.28 471.55 L614.18 474.15 L636.08 475.65 L657.97 476.45 L679.87 476.75 L701.77 476.85 L723.66 476.85 L745.56 476.85 L767.46 476.85 L778.41 476.85 L778.41 477.75 L767.46 477.75 L745.56 477.75 L723.66 477.75 L701.77 477.75 L679.87 477.65 L657.97 477.35 L636.08 476.55 L614.18 475.05 L592.28 472.45 L570.39 467.25 L548.49 459.45 L526.59 446.65 L504.69 425.15 L482.80 400.15 L460.90 367.45 L439.00 331.95 L417.11 292.45 L395.21 249.45 L373.31 214.45 L351.42 177.95 L329.52 147.35 L307.62 118.45 L285.72 99.45 L263.83 82.45 L241.93 70.45 L220.03 61.95 L198.14 55.15 L176.24 49.45 L154.34 44.55 L132.45 40.95 L110.55 38.55 L99.60 37.65Z" fill="#999" stroke="#999" stroke-width="0.62"/>
<path d="M99.60 11.12 L110.55 12.12 L132.45 13.97 L154.34 16.82 L176.24 21.12 L198.14 26.73 L220.03 33.42 L241.93 42.73 L263.83 55.62 L285.72 71.22 L307.62 90.53 L329.52 116.92 L351.42 146.93 L373.31 183.62 L395.21 225.32 L417.11 269.32 L439.00 314.93 L460.90 354.12 L482.80 391.23 L504.69 418.32 L526.59 439.82 L548.49 454.73 L570.39 464.32 L592.28 470.02 L614.18 472.82 L636.08 474.52 L657.97 475.43 L679.87 475.82 L701.77 475.93 L723.66 475.93 L745.56 475.93 L767.46 475.93 L778.41 475.93 L778.41 478.68 L767.46 478.68 L745.56 478.68 L723.66 478.68 L701.77 478.68 L679.87 478.57 L657.97 478.18 L636.08 477.27 L614.18 475.57 L592.28 472.77 L570.39 467.07 L548.49 457.48 L526.59 442.57 L504.69 421.07 L482.80 393.98 L460.90 356.88 L439.00 317.68 L417.11 272.07 L395.21 228.07 L373.31 186.38 L351.42 149.68 L329.52 119.67 L307.62 93.28 L285.72 73.97 L263.83 58.38 L241.93 45.48 L220.03 36.17 L198.14 29.48 L176.24 23.88 L154.34 19.57 L132.45 16.73 L110.55 14.88 L99.60 13.88Z" fill="#f00" stroke="none"/>
<path d="M99.60 12.50 L110.55 13.50 L132.45 15.35 L154.34 18.20 L176.24 22.50 L198.14 28.10 L220.03 34.80 L241.93 44.10 L263.83 57.00 L285.72 72.60 L307.62 91.90 L329.52 118.30 L351.42 148.30 L373.31 185.00 L395.21 226.70 L417.11 270.70 L439.00 316.30 L460.90 355.50 L482.80 392.60 L504.69 419.70 L526.59 441.20 L548.49 456.10 L570.39 465.70 L592.28 471.40 L614.18 474.20 L636.08 475.90 L657.97 476.80 L679.87 477.20 L701.77 477.30 L723.66 477.30 L745.56 477.30 L767.46 477.30 L778.41 477.30" stroke="#f00" stroke-width="2.35"/>
</g>
<rect x="99.60" y="2.30" width="678.60" height="475.00" fill="none" stroke="#000" stroke-width="1.4"/>
<path d="M121.50 477.30 v-6.0 M121.50 2.30 v6.0 M143.39 477.30 v-6.0 M143.39 2.30 v6.0 M165.29 477.30 v-6.0 M165.29 2.30 v6.0 M187.19 477.30 v-6.0 M187.19 2.30 v6.0 M209.08 477.30 v-12.0 M209.08 2.30 v12.0 M230.98 477.30 v-6.0 M230.98 2.30 v6.0 M252.88 477.30 v-6.0 M252.88 2.30 v6.0 M274.78 477.30 v-6.0 M274.78 2.30 v6.0 M296.67 477.30 v-6.0 M296.67 2.30 v6.0 M318.57 477.30 v-12.0 M318.57 2.30 v12.0 M340.47 477.30 v-6.0 M340.47 2.30 v6.0 M362.36 477.30 v-6.0 M362.36 2.30 v6.0 M384.26 477.30 v-6.0 M384.26 2.30 v6.0 M406.16 477.30 v-6.0 M406.16 2.30 v6.0 M428.05 477.30 v-12.0 M428.05 2.30 v12.0 M449.95 477.30 v-6.0 M449.95 2.30 v6.0 M471.85 477.30 v-6.0 M471.85 2.30 v6.0 M493.75 477.30 v-6.0 M493.75 2.30 v6.0 M515.64 477.30 v-6.0 M515.64 2.30 v6.0 M537.54 477.30 v-12.0 M537.54 2.30 v12.0 M559.44 477.30 v-6.0 M559.44 2.30 v6.0 M581.33 477.30 v-6.0 M581.33 2.30 v6.0 M603.23 477.30 v-6.0 M603.23 2.30 v6.0 M625.13 477.30 v-6.0 M625.13 2.30 v6.0 M647.02 477.30 v-12.0 M647.02 2.30 v12.0 M668.92 477.30 v-6.0 M668.92 2.30 v6.0 M690.82 477.30 v-6.0 M690.82 2.30 v6.0 M712.72 477.30 v-6.0 M712.72 2.30 v6.0 M734.61 477.30 v-6.0 M734.61 2.30 v6.0 M756.51 477.30 v-12.0 M756.51 2.30 v12.0 M778.41 477.30 v-6.0 M778.41 2.30 v6.0 M99.60 429.80 h6.0 M778.20 429.80 h-6.0 M99.60 382.30 h12.0 M778.20 382.30 h-12.0 M99.60 334.80 h6.0 M778.20 334.80 h-6.0 M99.60 287.30 h12.0 M778.20 287.30 h-12.0 M99.60 239.80 h6.0 M778.20 239.80 h-6.0 M99.60 192.30 h12.0 M778.20 192.30 h-12.0 M99.60 144.80 h6.0 M778.20 144.80 h-6.0 M99.60 97.30 h12.0 M778.20 97.30 h-12.0 M99.60 49.80 h6.0 M778.20 49.80 h-6.0" stroke="#000" stroke-width="1.2" fill="none"/>
<path d="M88.68 494.90 L90.24 494.17 L92.58 491.96 L92.58 507.40 M103.50 491.96 L112.08 491.96 L107.40 497.84 L109.74 497.84 L111.30 498.58 L112.08 499.31 L112.86 501.52 L112.86 502.99 L112.08 505.19 L110.52 506.66 L108.18 507.40 L105.84 507.40 L103.50 506.66 L102.72 505.93 L101.94 504.46" fill="none" stroke="#000" stroke-width="1.15" stroke-linecap="round" stroke-linejoin="round"/>
<path d="M186.46 494.90 L188.02 494.17 L190.36 491.96 L190.36 507.40 M201.28 491.96 L209.86 491.96 L205.18 497.84 L207.52 497.84 L209.08 498.58 L209.86 499.31 L210.64 501.52 L210.64 502.99 L209.86 505.19 L208.30 506.66 L205.96 507.40 L203.62 507.40 L201.28 506.66 L200.50 505.93 L199.72 504.46 M216.88 505.93 L216.10 506.66 L216.88 507.40 L217.66 506.66 L216.88 505.93 M232.48 491.96 L224.68 491.96 L223.90 498.58 L224.68 497.84 L227.02 497.11 L229.36 497.11 L231.70 497.84 L233.26 499.31 L234.04 501.52 L234.04 502.99 L233.26 505.19 L231.70 506.66 L229.36 507.40 L227.02 507.40 L224.68 506.66 L223.90 505.93 L223.12 504.46" fill="none" stroke="#000" stroke-width="1.15" stroke-linecap="round" stroke-linejoin="round"/>
<path d="M307.65 494.90 L309.21 494.17 L311.55 491.96 L311.55 507.40 M328.71 491.96 L320.91 502.25 L332.61 502.25 M328.71 491.96 L328.71 507.40" fill="none" stroke="#000" stroke-width="1.15" stroke-linecap="round" stroke-linejoin="round"/>
<path d="M405.43 494.90 L406.99 494.17 L409.33 491.96 L409.33 507.40 M426.49 491.96 L418.69 502.25 L430.39 502.25 M426.49 491.96 L426.49 507.40 M435.85 505.93 L435.07 506.66 L435.85 507.40 L436.63 506.66 L435.85 505.93 M451.45 491.96 L443.65 491.96 L442.87 498.58 L443.65 497.84 L445.99 497.11 L448.33 497.11 L450.67 497.84 L452.23 499.31 L453.01 501.52 L453.01 502.99 L452.23 505.19 L450.67 506.66 L448.33 507.40 L445.99 507.40 L443.65 506.66 L442.87 505.93 L442.09 504.46" fill="none" stroke="#000" stroke-width="1.15" stroke-linecap="round" stroke-linejoin="round"/>
<path d="M526.62 494.90 L528.18 494.17 L530.52 491.96 L530.52 507.40 M549.24 491.96 L541.44 491.96 L540.66 498.58 L541.44 497.84 L543.78 497.11 L546.12 497.11 L548.46 497.84 L550.02 499.31 L550.80 501.52 L550.80 502.99 L550.02 505.19 L548.46 506.66 L546.12 507.40 L543.78 507.40 L541.44 506.66 L540.66 505.93 L539.88 504.46" fill="none" stroke="#000" stroke-width="1.15" stroke-linecap="round" stroke-linejoin="round"/>
<path d="M624.40 494.90 L625.97 494.17 L628.31 491.96 L628.31 507.40 M647.02 491.96 L639.23 491.96 L638.45 498.58 L639.23 497.84 L641.57 497.11 L643.90 497.11 L646.25 497.84 L647.81 499.31 L648.59 501.52 L648.59 502.99 L647.81 505.19 L646.25 506.66 L643.90 507.40 L641.57 507.40 L639.23 506.66 L638.45 505.93 L637.67 504.46 M654.83 505.93 L654.05 506.66 L654.83 507.40 L655.61 506.66 L654.83 505.93 M670.43 491.96 L662.62 491.96 L661.85 498.58 L662.62 497.84 L664.97 497.11 L667.31 497.11 L669.64 497.84 L671.21 499.31 L671.99 501.52 L671.99 502.99 L671.21 505.19 L669.64 506.66 L667.31 507.40 L664.97 507.40 L662.62 506.66 L661.85 505.93 L661.07 504.46" fill="none" stroke="#000" stroke-width="1.15" stroke-linecap="round" stroke-linejoin="round"/>
<path d="M745.59 494.90 L747.15 494.17 L749.49 491.96 L749.49 507.40 M768.99 494.17 L768.21 492.70 L765.87 491.96 L764.31 491.96 L761.97 492.70 L760.41 494.90 L759.63 498.58 L759.63 502.25 L760.41 505.19 L761.97 506.66 L764.31 507.40 L765.09 507.40 L767.43 506.66 L768.99 505.19 L769.77 502.99 L769.77 502.25 L768.99 500.05 L767.43 498.58 L765.09 497.84 L764.31 497.84 L761.97 498.58 L760.41 500.05 L759.63 502.25" fill="none" stroke="#000" stroke-width="1.15" stroke-linecap="round" stroke-linejoin="round"/>
<path d="M65.72 478.04 L66.50 480.26 L68.83 481.74 L72.70 482.48 L75.03 482.48 L78.90 481.74 L81.22 480.26 L82.00 478.04 L82.00 476.56 L81.22 474.34 L78.90 472.86 L75.03 472.12 L72.70 472.12 L68.83 472.86 L66.50 474.34 L65.72 476.56 L65.72 478.04" fill="none" stroke="#000" stroke-width="1.15" stroke-linecap="round" stroke-linejoin="round"/>
<path d="M65.72 394.14 L66.50 396.36 L68.83 397.84 L72.70 398.58 L75.03 398.58 L78.90 397.84 L81.22 396.36 L82.00 394.14 L82.00 392.66 L81.22 390.44 L78.90 388.96 L75.03 388.22 L72.70 388.22 L68.83 388.96 L66.50 390.44 L65.72 392.66 L65.72 394.14 M80.45 382.30 L81.22 383.04 L82.00 382.30 L81.22 381.56 L80.45 382.30 M69.60 375.64 L68.83 375.64 L67.28 374.90 L66.50 374.16 L65.72 372.68 L65.72 369.72 L66.50 368.24 L67.28 367.50 L68.83 366.76 L70.38 366.76 L71.92 367.50 L74.25 368.98 L82.00 376.38 L82.00 366.02" fill="none" stroke="#000" stroke-width="1.15" stroke-linecap="round" stroke-linejoin="round"/>
<path d="M65.72 299.14 L66.50 301.36 L68.83 302.84 L72.70 303.58 L75.03 303.58 L78.90 302.84 L81.22 301.36 L82.00 299.14 L82.00 297.66 L81.22 295.44 L78.90 293.96 L75.03 293.22 L72.70 293.22 L68.83 293.96 L66.50 295.44 L65.72 297.66 L65.72 299.14 M80.45 287.30 L81.22 288.04 L82.00 287.30 L81.22 286.56 L80.45 287.30 M65.72 273.98 L76.58 281.38 L76.58 270.28 M65.72 273.98 L82.00 273.98" fill="none" stroke="#000" stroke-width="1.15" stroke-linecap="round" stroke-linejoin="round"/>
<path d="M65.72 204.14 L66.50 206.36 L68.83 207.84 L72.70 208.58 L75.03 208.58 L78.90 207.84 L81.22 206.36 L82.00 204.14 L82.00 202.66 L81.22 200.44 L78.90 198.96 L75.03 198.22 L72.70 198.22 L68.83 198.96 L66.50 200.44 L65.72 202.66 L65.72 204.14 M80.45 192.30 L81.22 193.04 L82.00 192.30 L81.22 191.56 L80.45 192.30 M68.05 176.76 L66.50 177.50 L65.72 179.72 L65.72 181.20 L66.50 183.42 L68.83 184.90 L72.70 185.64 L76.58 185.64 L79.67 184.90 L81.22 183.42 L82.00 181.20 L82.00 180.46 L81.22 178.24 L79.67 176.76 L77.35 176.02 L76.58 176.02 L74.25 176.76 L72.70 178.24 L71.92 180.46 L71.92 181.20 L72.70 183.42 L74.25 184.90 L76.58 185.64" fill="none" stroke="#000" stroke-width="1.15" stroke-linecap="round" stroke-linejoin="round"/>
<path d="M65.72 109.14 L66.50 111.36 L68.83 112.84 L72.70 113.58 L75.03 113.58 L78.90 112.84 L81.22 111.36 L82.00 109.14 L82.00 107.66 L81.22 105.44 L78.90 103.96 L75.03 103.22 L72.70 103.22 L68.83 103.96 L66.50 105.44 L65.72 107.66 L65.72 109.14 M80.45 97.30 L81.22 98.04 L82.00 97.30 L81.22 96.56 L80.45 97.30 M65.72 87.68 L66.50 89.90 L68.05 90.64 L69.60 90.64 L71.15 89.90 L71.92 88.42 L72.70 85.46 L73.47 83.24 L75.03 81.76 L76.58 81.02 L78.90 81.02 L80.45 81.76 L81.22 82.50 L82.00 84.72 L82.00 87.68 L81.22 89.90 L80.45 90.64 L78.90 91.38 L76.58 91.38 L75.03 90.64 L73.47 89.16 L72.70 86.94 L71.92 83.98 L71.15 82.50 L69.60 81.76 L68.05 81.76 L66.50 82.50 L65.72 84.72 L65.72 87.68" fill="none" stroke="#000" stroke-width="1.15" stroke-linecap="round" stroke-linejoin="round"/>
<path d="M68.83 5.26 L68.05 3.78 L65.72 1.56 L82.00 1.56" fill="none" stroke="#000" stroke-width="1.15" stroke-linecap="round" stroke-linejoin="round"/>
<path d="M374.95 531.89 L374.95 553.10 M389.13 531.89 L389.13 553.10 M374.95 541.99 L389.13 541.99 M420.54 527.85 L418.51 529.87 L416.48 532.90 L414.46 536.94 L413.45 541.99 L413.45 546.03 L414.46 551.08 L416.48 555.12 L418.51 558.15 L420.54 560.17 M427.63 538.96 L427.63 553.10 M427.63 543.00 L430.67 539.97 L432.69 538.96 L435.73 538.96 L437.76 539.97 L438.77 543.00 L438.77 553.10 M438.77 543.00 L441.81 539.97 L443.84 538.96 L446.88 538.96 L448.90 539.97 L449.91 543.00 L449.91 553.10 M469.16 538.96 L469.16 553.10 M469.16 541.99 L467.13 539.97 L465.11 538.96 L462.07 538.96 L460.04 539.97 L458.02 541.99 L457.00 545.02 L457.00 547.04 L458.02 550.07 L460.04 552.09 L462.07 553.10 L465.11 553.10 L467.13 552.09 L469.16 550.07 M488.41 538.96 L488.41 555.12 L487.39 558.15 L486.38 559.16 L484.36 560.17 L481.32 560.17 L479.29 559.16 M488.41 541.99 L486.38 539.97 L484.36 538.96 L481.32 538.96 L479.29 539.97 L477.26 541.99 L476.25 545.02 L476.25 547.04 L477.26 550.07 L479.29 552.09 L481.32 553.10 L484.36 553.10 L486.38 552.09 L488.41 550.07 M495.50 527.85 L497.52 529.87 L499.55 532.90 L501.58 536.94 L502.59 541.99 L502.59 546.03 L501.58 551.08 L499.55 555.12 L497.52 558.15 L495.50 560.17" fill="none" stroke="#000" stroke-width="1.30" stroke-linecap="round" stroke-linejoin="round"/>
<path d="M3.34 397.96 L25.60 397.96 M3.34 397.96 L3.34 390.89 L4.40 387.86 L6.52 385.84 L8.64 384.83 L11.82 383.82 L17.12 383.82 L20.30 384.83 L22.42 385.84 L24.54 387.86 L25.60 390.89 L25.60 397.96 M17.12 377.76 L17.12 365.64 L15.00 365.64 L12.88 366.65 L11.82 367.66 L10.76 369.68 L10.76 372.71 L11.82 374.73 L13.94 376.75 L17.12 377.76 L19.24 377.76 L22.42 376.75 L24.54 374.73 L25.60 372.71 L25.60 369.68 L24.54 367.66 L22.42 365.64 M3.34 357.56 L21.36 357.56 L24.54 356.55 L25.60 354.53 L25.60 352.51 M10.76 360.59 L10.76 353.52 M17.12 347.46 L17.12 335.34 L15.00 335.34 L12.88 336.35 L11.82 337.36 L10.76 339.38 L10.76 342.41 L11.82 344.43 L13.94 346.45 L17.12 347.46 L19.24 347.46 L22.42 346.45 L24.54 344.43 L25.60 342.41 L25.60 339.38 L24.54 337.36 L22.42 335.34 M13.94 317.16 L11.82 319.18 L10.76 321.20 L10.76 324.23 L11.82 326.25 L13.94 328.27 L17.12 329.28 L19.24 329.28 L22.42 328.27 L24.54 326.25 L25.60 324.23 L25.60 321.20 L24.54 319.18 L22.42 317.16 M3.34 309.08 L21.36 309.08 L24.54 308.07 L25.60 306.05 L25.60 304.03 M10.76 312.11 L10.76 305.04 M3.34 298.98 L4.40 297.97 L3.34 296.96 L2.28 297.97 L3.34 298.98 M10.76 297.97 L25.60 297.97 M10.76 285.85 L11.82 287.87 L13.94 289.89 L17.12 290.90 L19.24 290.90 L22.42 289.89 L24.54 287.87 L25.60 285.85 L25.60 282.82 L24.54 280.80 L22.42 278.78 L19.24 277.77 L17.12 277.77 L13.94 278.78 L11.82 280.80 L10.76 282.82 L10.76 285.85 M10.76 270.70 L25.60 270.70 M15.00 270.70 L11.82 267.67 L10.76 265.65 L10.76 262.62 L11.82 260.60 L15.00 259.59 L25.60 259.59 M10.76 235.35 L33.02 235.35 M13.94 235.35 L11.82 233.33 L10.76 231.31 L10.76 228.28 L11.82 226.26 L13.94 224.24 L17.12 223.23 L19.24 223.23 L22.42 224.24 L24.54 226.26 L25.60 228.28 L25.60 231.31 L24.54 233.33 L22.42 235.35 M10.76 216.16 L25.60 216.16 M17.12 216.16 L13.94 215.15 L11.82 213.13 L10.76 211.11 L10.76 208.08 M10.76 198.99 L11.82 201.01 L13.94 203.03 L17.12 204.04 L19.24 204.04 L22.42 203.03 L24.54 201.01 L25.60 198.99 L25.60 195.96 L24.54 193.94 L22.42 191.92 L19.24 190.91 L17.12 190.91 L13.94 191.92 L11.82 193.94 L10.76 195.96 L10.76 198.99 M3.34 183.84 L25.60 183.84 M13.94 183.84 L11.82 181.82 L10.76 179.80 L10.76 176.77 L11.82 174.75 L13.94 172.73 L17.12 171.72 L19.24 171.72 L22.42 172.73 L24.54 174.75 L25.60 176.77 L25.60 179.80 L24.54 181.82 L22.42 183.84 M10.76 153.54 L25.60 153.54 M13.94 153.54 L11.82 155.56 L10.76 157.58 L10.76 160.61 L11.82 162.63 L13.94 164.65 L17.12 165.66 L19.24 165.66 L22.42 164.65 L24.54 162.63 L25.60 160.61 L25.60 157.58 L24.54 155.56 L22.42 153.54 M3.34 145.46 L25.60 145.46 M13.94 145.46 L11.82 143.44 L10.76 141.42 L10.76 138.39 L11.82 136.37 L13.94 134.35 L17.12 133.34 L19.24 133.34 L22.42 134.35 L24.54 136.37 L25.60 138.39 L25.60 141.42 L24.54 143.44 L22.42 145.46 M3.34 127.28 L4.40 126.27 L3.34 125.26 L2.28 126.27 L3.34 127.28 M10.76 126.27 L25.60 126.27 M3.34 118.19 L25.60 118.19 M3.34 111.12 L4.40 110.11 L3.34 109.10 L2.28 110.11 L3.34 111.12 M10.76 110.11 L25.60 110.11 M3.34 101.02 L21.36 101.02 L24.54 100.01 L25.60 97.99 L25.60 95.97 M10.76 104.05 L10.76 96.98 M10.76 91.93 L25.60 85.87 M10.76 79.81 L25.60 85.87 L29.84 87.89 L31.96 89.91 L33.02 91.93 L33.02 92.94" fill="none" stroke="#000" stroke-width="1.30" stroke-linecap="round" stroke-linejoin="round"/>
<path d="M675.47 39.14 L674.79 37.82 L673.44 36.50 L672.09 35.84 L669.38 35.84 L668.03 36.50 L666.68 37.82 L666.00 39.14 L665.33 41.12 L665.33 44.42 L666.00 46.40 L666.68 47.72 L668.03 49.04 L669.38 49.70 L672.09 49.70 L673.44 49.04 L674.79 47.72 L675.47 46.40 L675.47 44.42 M672.09 44.42 L675.47 44.42 M688.31 40.46 L687.64 42.44 L686.28 43.76 L684.26 44.42 L683.58 44.42 L681.55 43.76 L680.20 42.44 L679.52 40.46 L679.52 39.80 L680.20 37.82 L681.55 36.50 L683.58 35.84 L684.26 35.84 L686.28 36.50 L687.64 37.82 L688.31 40.46 L688.31 43.76 L687.64 47.06 L686.28 49.04 L684.26 49.70 L682.90 49.70 L680.88 49.04 L680.20 47.72 M701.83 37.82 L701.16 36.50 L699.13 35.84 L697.78 35.84 L695.75 36.50 L694.40 38.48 L693.72 41.78 L693.72 45.08 L694.40 47.72 L695.75 49.04 L697.78 49.70 L698.45 49.70 L700.48 49.04 L701.83 47.72 L702.51 45.74 L702.51 45.08 L701.83 43.10 L700.48 41.78 L698.45 41.12 L697.78 41.12 L695.75 41.78 L694.40 43.10 L693.72 45.08 M718.06 33.20 L705.89 54.32 M722.11 35.84 L722.11 49.70 M722.11 49.70 L730.22 49.70 M741.04 35.84 L734.28 35.84 L733.60 41.78 L734.28 41.12 L736.31 40.46 L738.34 40.46 L740.36 41.12 L741.72 42.44 L742.39 44.42 L742.39 45.74 L741.72 47.72 L740.36 49.04 L738.34 49.70 L736.31 49.70 L734.28 49.04 L733.60 48.38 L732.93 47.06" fill="none" stroke="#000" stroke-width="1.20" stroke-linecap="round" stroke-linejoin="round"/>
<path d="M583.60 214.59 L583.60 221.25 M583.60 216.49 L585.03 215.06 L585.98 214.59 L587.41 214.59 L588.36 215.06 L588.84 216.49 L588.84 221.25 M588.84 216.49 L590.27 215.06 L591.22 214.59 L592.65 214.59 L593.60 215.06 L594.08 216.49 L594.08 221.25 M597.41 217.44 L603.12 217.44 L603.12 216.49 L602.64 215.54 L602.17 215.06 L601.22 214.59 L599.79 214.59 L598.84 215.06 L597.88 216.01 L597.41 217.44 L597.41 218.39 L597.88 219.82 L598.84 220.77 L599.79 221.25 L601.22 221.25 L602.17 220.77 L603.12 219.82 M611.69 211.25 L611.69 221.25 M611.69 216.01 L610.74 215.06 L609.78 214.59 L608.36 214.59 L607.40 215.06 L606.45 216.01 L605.98 217.44 L605.98 218.39 L606.45 219.82 L607.40 220.77 L608.36 221.25 L609.78 221.25 L610.74 220.77 L611.69 219.82 M615.02 211.25 L615.50 211.73 L615.97 211.25 L615.50 210.78 L615.02 211.25 M615.50 214.59 L615.50 221.25 M624.54 214.59 L624.54 221.25 M624.54 216.01 L623.59 215.06 L622.64 214.59 L621.21 214.59 L620.26 215.06 L619.30 216.01 L618.83 217.44 L618.83 218.39 L619.30 219.82 L620.26 220.77 L621.21 221.25 L622.64 221.25 L623.59 220.77 L624.54 219.82 M628.35 214.59 L628.35 221.25 M628.35 216.49 L629.78 215.06 L630.73 214.59 L632.16 214.59 L633.11 215.06 L633.58 216.49 L633.58 221.25 M645.01 211.25 L645.01 221.25 M645.01 221.25 L650.72 221.25 M657.38 211.25 L652.62 217.92 L659.76 217.92 M657.38 211.25 L657.38 221.25" fill="none" stroke="#000" stroke-width="1.30" stroke-linecap="round" stroke-linejoin="round"/>
<path d="M583.60 404.54 L583.60 411.20 M583.60 406.44 L585.03 405.01 L585.98 404.54 L587.41 404.54 L588.36 405.01 L588.84 406.44 L588.84 411.20 M588.84 406.44 L590.27 405.01 L591.22 404.54 L592.65 404.54 L593.60 405.01 L594.08 406.44 L594.08 411.20 M597.41 407.39 L603.12 407.39 L603.12 406.44 L602.64 405.49 L602.17 405.01 L601.22 404.54 L599.79 404.54 L598.84 405.01 L597.88 405.96 L597.41 407.39 L597.41 408.34 L597.88 409.77 L598.84 410.72 L599.79 411.20 L601.22 411.20 L602.17 410.72 L603.12 409.77 M611.69 401.20 L611.69 411.20 M611.69 405.96 L610.74 405.01 L609.78 404.54 L608.36 404.54 L607.40 405.01 L606.45 405.96 L605.98 407.39 L605.98 408.34 L606.45 409.77 L607.40 410.72 L608.36 411.20 L609.78 411.20 L610.74 410.72 L611.69 409.77 M615.02 401.20 L615.50 401.68 L615.97 401.20 L615.50 400.73 L615.02 401.20 M615.50 404.54 L615.50 411.20 M624.54 404.54 L624.54 411.20 M624.54 405.96 L623.59 405.01 L622.64 404.54 L621.21 404.54 L620.26 405.01 L619.30 405.96 L618.83 407.39 L618.83 408.34 L619.30 409.77 L620.26 410.72 L621.21 411.20 L622.64 411.20 L623.59 410.72 L624.54 409.77 M628.35 404.54 L628.35 411.20 M628.35 406.44 L629.78 405.01 L630.73 404.54 L632.16 404.54 L633.11 405.01 L633.58 406.44 L633.58 411.20 M645.01 401.20 L645.01 411.20 M645.01 411.20 L650.72 411.20 M658.34 401.20 L653.58 401.20 L653.10 405.49 L653.58 405.01 L655.00 404.54 L656.43 404.54 L657.86 405.01 L658.81 405.96 L659.29 407.39 L659.29 408.34 L658.81 409.77 L657.86 410.72 L656.43 411.20 L655.00 411.20 L653.58 410.72 L653.10 410.25 L652.62 409.30" fill="none" stroke="#000" stroke-width="1.30" stroke-linecap="round" stroke-linejoin="round"/>
<path d="M135.70 417.49 L135.70 430.30 M135.70 417.49 L143.84 417.49 M135.70 423.59 L140.71 423.59 M135.70 430.30 L143.84 430.30 M147.60 421.76 L147.60 430.30 M147.60 424.20 L149.48 422.37 L150.73 421.76 L152.61 421.76 L153.86 422.37 L154.48 424.20 L154.48 430.30 M159.49 421.76 L159.49 430.30 M159.49 424.20 L161.37 422.37 L162.62 421.76 L164.50 421.76 L165.75 422.37 L166.38 424.20 L166.38 430.30 M173.89 421.76 L172.64 422.37 L171.39 423.59 L170.76 425.42 L170.76 426.64 L171.39 428.47 L172.64 429.69 L173.89 430.30 L175.77 430.30 L177.02 429.69 L178.27 428.47 L178.90 426.64 L178.90 425.42 L178.27 423.59 L177.02 422.37 L175.77 421.76 L173.89 421.76 M183.28 421.76 L183.28 430.30 M183.28 424.20 L185.16 422.37 L186.41 421.76 L188.29 421.76 L189.54 422.37 L190.17 424.20 L190.17 430.30 M190.17 424.20 L192.04 422.37 L193.30 421.76 L195.17 421.76 L196.43 422.37 L197.05 424.20 L197.05 430.30 M204.56 421.76 L203.31 422.37 L202.06 423.59 L201.43 425.42 L201.43 426.64 L202.06 428.47 L203.31 429.69 L204.56 430.30 L206.44 430.30 L207.69 429.69 L208.95 428.47 L209.57 426.64 L209.57 425.42 L208.95 423.59 L207.69 422.37 L206.44 421.76 L204.56 421.76 M220.21 423.59 L219.59 422.37 L217.71 421.76 L215.83 421.76 L213.95 422.37 L213.33 423.59 L213.95 424.81 L215.21 425.42 L218.34 426.03 L219.59 426.64 L220.21 427.86 L220.21 428.47 L219.59 429.69 L217.71 430.30 L215.83 430.30 L213.95 429.69 L213.33 428.47 M234.61 415.05 L223.34 434.57 M238.37 417.49 L238.37 430.30 M238.37 417.49 L242.75 417.49 L244.63 418.10 L245.88 419.32 L246.51 420.54 L247.13 422.37 L247.13 425.42 L246.51 427.25 L245.88 428.47 L244.63 429.69 L242.75 430.30 L238.37 430.30 M250.89 425.42 L258.40 425.42 L258.40 424.20 L257.77 422.98 L257.15 422.37 L255.90 421.76 L254.02 421.76 L252.77 422.37 L251.51 423.59 L250.89 425.42 L250.89 426.64 L251.51 428.47 L252.77 429.69 L254.02 430.30 L255.90 430.30 L257.15 429.69 L258.40 428.47 M262.16 417.49 L262.78 418.10 L263.41 417.49 L262.78 416.88 L262.16 417.49 M262.78 421.76 L262.78 430.30 M267.79 421.76 L267.79 434.57 M267.79 423.59 L269.04 422.37 L270.29 421.76 L272.17 421.76 L273.42 422.37 L274.68 423.59 L275.30 425.42 L275.30 426.64 L274.68 428.47 L273.42 429.69 L272.17 430.30 L270.29 430.30 L269.04 429.69 L267.79 428.47 M279.68 417.49 L279.68 430.30 M279.68 424.20 L281.56 422.37 L282.81 421.76 L284.69 421.76 L285.94 422.37 L286.57 424.20 L286.57 430.30 M294.08 421.76 L292.83 422.37 L291.58 423.59 L290.95 425.42 L290.95 426.64 L291.58 428.47 L292.83 429.69 L294.08 430.30 L295.96 430.30 L297.21 429.69 L298.46 428.47 L299.09 426.64 L299.09 425.42 L298.46 423.59 L297.21 422.37 L295.96 421.76 L294.08 421.76 M303.47 417.49 L303.47 430.30 M303.47 423.59 L304.72 422.37 L305.98 421.76 L307.85 421.76 L309.11 422.37 L310.36 423.59 L310.98 425.42 L310.98 426.64 L310.36 428.47 L309.11 429.69 L307.85 430.30 L305.98 430.30 L304.72 429.69 L303.47 428.47 M315.37 421.76 L315.37 427.86 L315.99 429.69 L317.24 430.30 L319.12 430.30 L320.37 429.69 L322.25 427.86 M322.25 421.76 L322.25 430.30 M333.52 423.59 L332.89 422.37 L331.02 421.76 L329.14 421.76 L327.26 422.37 L326.63 423.59 L327.26 424.81 L328.51 425.42 L331.64 426.03 L332.89 426.64 L333.52 427.86 L333.52 428.47 L332.89 429.69 L331.02 430.30 L329.14 430.30 L327.26 429.69 L326.63 428.47" fill="none" stroke="#f00" stroke-width="1.10" stroke-linecap="round" stroke-linejoin="round"/>
<line x1="624.8" y1="240" x2="624.8" y2="387.4" stroke="#000" stroke-width="3.8" stroke-linecap="round"/>
<path d="M624.8 238.6 L634.6 263 L624.8 257.2 L615.0 263 Z" fill="#000"/>
<path d="M624.8 388.8 L634.8 364 L624.8 369.8 L615.2 364 Z" fill="#000"/>
</svg></body></html>
